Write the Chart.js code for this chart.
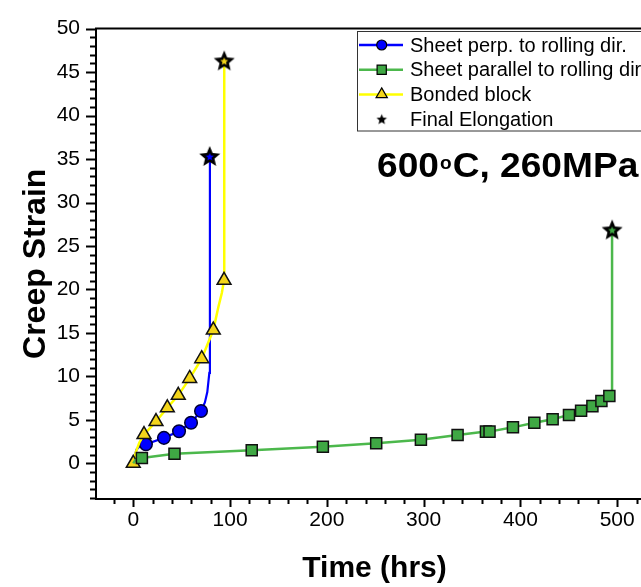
<!DOCTYPE html>
<html>
<head>
<meta charset="utf-8">
<script src="https://cdn.jsdelivr.net/npm/chart.js@4.4.1/dist/chart.umd.min.js"></script>
<style>
  html, body { margin: 0; padding: 0; background: #fff; overflow: hidden; }
</style>
</head>
<body>
<canvas id="creepChart" width="700" height="587"></canvas>
<script>
// Creep curves at 600C / 260MPa

// Sheet perpendicular to rolling direction
const perpMarkTime = [13.1, 31.7, 47.3, 59.7, 70.0];
const perpMarkStrain = [2.19, 2.93, 3.69, 4.67, 6.02];
const perpCurveTime = [0, 1, 3.5, 7, 13.1, 31.7, 47.3, 59.7, 70.0, 74, 76.5, 78.6, 79.2, 79.2];
const perpCurveStrain = [0, 0.7, 1.6, 2.0, 2.19, 2.93, 3.69, 4.67, 6.02, 7.0, 8.2, 10.4, 12.5, 35.3];

// Sheet parallel to rolling direction
const paraMarkTime = [8.9, 42.6, 122.4, 195.9, 251, 297.2, 335.1, 364.4, 368.1, 392.3, 414.4, 433.3, 450.2, 462.7, 474.4, 483.7, 491.9];
const paraMarkStrain = [0.61, 1.1, 1.51, 1.92, 2.30, 2.71, 3.27, 3.65, 3.65, 4.14, 4.67, 5.07, 5.57, 6.05, 6.58, 7.18, 7.75];
const paraCurveTime = [0, 2, 5, 8.9, 20.7, 42.6, 122.4, 195.9, 251, 297.2, 335.1, 364.4, 368.1, 392.3, 414.4, 433.3, 450.2, 462.7, 474.4, 483.7, 491.9, 494.7, 494.7];
const paraCurveStrain = [0, 0.35, 0.5, 0.61, 0.8, 1.1, 1.51, 1.92, 2.30, 2.71, 3.27, 3.65, 3.65, 4.14, 4.67, 5.07, 5.57, 6.05, 6.58, 7.18, 7.75, 8.3, 26.9];

// Bonded block
const bondMarkTime = [0, 11.1, 23.5, 35.2, 46.5, 58.3, 70.7, 82.7, 93.8];
const bondMarkStrain = [0, 3.31, 4.81, 6.39, 7.82, 9.77, 12.03, 15.33, 21.05];
const bondCurveTime = [0, 2.5, 6.2, 11.1, 23.5, 35.2, 46.5, 58.3, 70.7, 82.7, 88, 91.5, 93.8, 94.0];
const bondCurveStrain = [0, 1.24, 2.37, 3.31, 4.81, 6.39, 7.82, 9.77, 12.03, 15.33, 18.0, 19.6, 21.05, 46.3];

// Final elongation (rupture) points: perp, bonded, parallel
const finalTime = [79.0, 94.0, 494.8];
const finalStrain = [35.35, 46.34, 26.9];

const seriesNames = ['Sheet perp. to rolling dir.', 'Sheet parallel to rolling dir.', 'Bonded block', 'Final Elongation'];

const xMajorTicks = [0, 100, 200, 300, 400, 500];
const yMajorTicks = [0, 5, 10, 15, 20, 25, 30, 35, 40, 45, 50];

const BLUE = '#0000FF';
const GREEN_LINE = '#4CB84C';
const GREEN_FILL = '#3FA844';
const YELLOW_LINE = '#FFFF00';
const YELLOW_FILL = '#F3D51A';

function toPoints(xs, ys) {
  return xs.map((v, i) => ({ x: v, y: ys[i] }));
}

function makeStar(inner, R) {
  const size = Math.ceil(R * 2 + 2);
  const c = document.createElement('canvas');
  c.width = c.height = size;
  const g = c.getContext('2d');
  const cy = size / 2 + R * 0.1;
  const path = (ro) => {
    const ri = ro * 0.45;
    g.beginPath();
    for (let k = 0; k < 10; k++) {
      const ang = -Math.PI / 2 + k * Math.PI / 5;
      const r = k % 2 ? ri : ro;
      g.lineTo(size / 2 + r * Math.cos(ang), cy + r * Math.sin(ang));
    }
    g.closePath();
  };
  path(R);
  g.fillStyle = '#000';
  g.fill();
  if (inner) {
    path(R * 0.38);
    g.fillStyle = inner;
    g.fill();
  }
  return c;
}

const starBlue = makeStar(BLUE, 11);
const starYellow = makeStar(YELLOW_FILL, 11);
const starGreen = makeStar(GREEN_FILL, 11);
const starLegend = makeStar(null, 5.5);

// minor ticks every 20 hrs and every 1 strain unit
const xMinorTicks = [];
for (let v = -20; v <= 520; v += 20) xMinorTicks.push(v);
const yMinorTicks = [];
for (let v = -4; v <= 50; v += 1) yMinorTicks.push(v);

const tickMarks = {
  id: 'tickMarks',
  afterDraw(chart) {
    const { ctx, chartArea: a, scales: { x, y } } = chart;
    ctx.save();
    ctx.strokeStyle = '#000';
    ctx.lineWidth = 2;
    ctx.beginPath();
    x.ticks.forEach(t => {
      const px = Math.round(x.getPixelForValue(t.value)) + 0.5;
      const len = xMajorTicks.includes(t.value) ? 8 : 5;
      ctx.moveTo(px, a.bottom);
      ctx.lineTo(px, a.bottom + len);
    });
    y.ticks.forEach(t => {
      const py = Math.round(y.getPixelForValue(t.value)) + 0.5;
      const len = yMajorTicks.includes(t.value) ? 10 : 6;
      ctx.moveTo(a.left, py);
      ctx.lineTo(a.left - len, py);
    });
    ctx.moveTo(a.left - 1, a.top);
    ctx.lineTo(a.right + 1, a.top);
    ctx.moveTo(a.right, a.top);
    ctx.lineTo(a.right, a.bottom);
    ctx.stroke();
    ctx.restore();
  }
};

const boxLegend = {
  id: 'boxLegend',
  afterDraw(chart) {
    const ctx = chart.ctx;
    const left = 357.5, top = 31.5;
    const rows = [
      { line: BLUE, fill: BLUE, style: 'circle', radius: 5 },
      { line: GREEN_LINE, fill: GREEN_FILL, style: 'rect', radius: 6.5 },
      { line: YELLOW_LINE, fill: YELLOW_FILL, style: 'triangle', radius: 6.5 },
      { line: null, star: true }
    ];
    ctx.save();
    ctx.fillStyle = '#fff';
    ctx.fillRect(left, top, 330, 99.5);
    ctx.strokeStyle = '#333';
    ctx.lineWidth = 1;
    ctx.strokeRect(left, top, 330, 99.5);
    rows.forEach((r, i) => {
      const cy = 45 + i * 24.7;
      const mx = 381.7;
      if (r.line) {
        ctx.strokeStyle = r.line;
        ctx.lineWidth = 2.5;
        ctx.beginPath();
        ctx.moveTo(359, cy);
        ctx.lineTo(403, cy);
        ctx.stroke();
      }
      if (r.star) {
        ctx.drawImage(starLegend, mx - starLegend.width / 2, cy - starLegend.height / 2);
      } else {
        ctx.fillStyle = r.fill;
        ctx.strokeStyle = '#000';
        ctx.lineWidth = 1.2;
        Chart.helpers.drawPoint(ctx, { pointStyle: r.style, radius: r.radius, rotation: 0, borderWidth: 1.2 }, mx, cy);
      }
      ctx.fillStyle = '#000';
      ctx.font = '20px "Liberation Sans", Arial, sans-serif';
      ctx.textBaseline = 'middle';
      ctx.textAlign = 'left';
      ctx.fillText(seriesNames[i], 410, cy + 1);
    });

    // test condition label with raised "o" for degrees, stretched a little to match
    ctx.textBaseline = 'alphabetic';
    ctx.translate(377, 176.5);
    ctx.scale(1.06, 1);
    let tx = 0;
    ctx.font = 'bold 35px "Liberation Sans", Arial, sans-serif';
    ctx.fillText('600', tx, 0);
    tx += ctx.measureText('600').width + 1;
    ctx.font = 'bold 18px "Liberation Sans", Arial, sans-serif';
    ctx.fillText('o', tx, -8);
    tx += ctx.measureText('o').width + 1;
    ctx.font = 'bold 35px "Liberation Sans", Arial, sans-serif';
    ctx.fillText('C, 260MPa', tx, 0);
    ctx.restore();
  }
};

Chart.defaults.font.family = '"Liberation Sans", Arial, sans-serif';
Chart.defaults.color = '#000';

const ctx = document.getElementById('creepChart').getContext('2d');

const creepChart = new Chart(ctx, {
  type: 'line',
  data: {
    datasets: [
      {
        label: 'Final Elongation',
        data: toPoints(finalTime, finalStrain),
        showLine: false,
        pointStyle: [starBlue, starYellow, starGreen],
        pointRadius: 11,
        order: 0,
      },
      {
        label: seriesNames[1],
        data: toPoints(paraMarkTime, paraMarkStrain),
        showLine: false,
        pointStyle: 'rect',
        pointRadius: 7.8,
        pointBackgroundColor: GREEN_FILL,
        pointBorderColor: '#111',
        pointBorderWidth: 1.5,
        order: 1,
      },
      {
        label: seriesNames[1] + ' curve',
        data: toPoints(paraCurveTime, paraCurveStrain),
        borderColor: GREEN_LINE,
        borderWidth: 2.5,
        pointRadius: 0,
        tension: 0,
        order: 2,
      },
      {
        label: seriesNames[2],
        data: toPoints(bondMarkTime, bondMarkStrain),
        showLine: false,
        pointStyle: 'triangle',
        pointRadius: 8,
        pointBackgroundColor: YELLOW_FILL,
        pointBorderColor: '#111',
        pointBorderWidth: 1.5,
        order: 3,
      },
      {
        label: seriesNames[2] + ' curve',
        data: toPoints(bondCurveTime, bondCurveStrain),
        borderColor: YELLOW_LINE,
        borderWidth: 2.5,
        pointRadius: 0,
        tension: 0,
        order: 4,
      },
      {
        label: seriesNames[0],
        data: toPoints(perpMarkTime, perpMarkStrain),
        showLine: false,
        pointStyle: 'circle',
        pointRadius: 6.3,
        pointBackgroundColor: BLUE,
        pointBorderColor: '#000033',
        pointBorderWidth: 1.5,
        order: 5,
      },
      {
        label: seriesNames[0] + ' curve',
        data: toPoints(perpCurveTime, perpCurveStrain),
        borderColor: BLUE,
        borderWidth: 2.2,
        pointRadius: 0,
        tension: 0,
        order: 6,
      },
    ],
  },
  options: {
    responsive: false,
    animation: false,
    layout: { padding: { top: 19, right: 47, left: 0, bottom: 0 } },
    plugins: {
      legend: { display: false },
      tooltip: { enabled: false },
    },
    scales: {
      x: {
        type: 'linear',
        min: -38.5,
        max: 537,
        afterBuildTicks: s => { s.ticks = xMinorTicks.map(v => ({ value: v })); },
        afterFit: s => { s.height = 88; },
        ticks: {
          autoSkip: false,
          maxRotation: 0,
          padding: 9,
          font: { size: 21 },
          callback: v => (xMajorTicks.includes(v) ? String(v) : ''),
        },
        grid: { display: false, drawTicks: false },
        border: { display: true, color: '#000', width: 2 },
        title: {
          display: true,
          text: 'Time (hrs)',
          font: { size: 30, weight: 'bold' },
          padding: { top: 0, bottom: 0 },
        },
      },
      y: {
        type: 'linear',
        min: -4.1,
        max: 50,
        afterBuildTicks: s => { s.ticks = yMinorTicks.map(v => ({ value: v })); },
        afterFit: s => { s.width = 96; },
        ticks: {
          autoSkip: false,
          padding: 16,
          font: { size: 21 },
          callback: v => (yMajorTicks.includes(v) ? String(v) : ''),
        },
        grid: { display: false, drawTicks: false },
        border: { display: true, color: '#000', width: 2 },
        title: {
          display: true,
          text: 'Creep Strain',
          font: { size: 32, weight: 'bold' },
          padding: { top: 17, bottom: 0 },
        },
      },
    },
  },
  plugins: [tickMarks, boxLegend],
});
</script>
</body>
</html>
